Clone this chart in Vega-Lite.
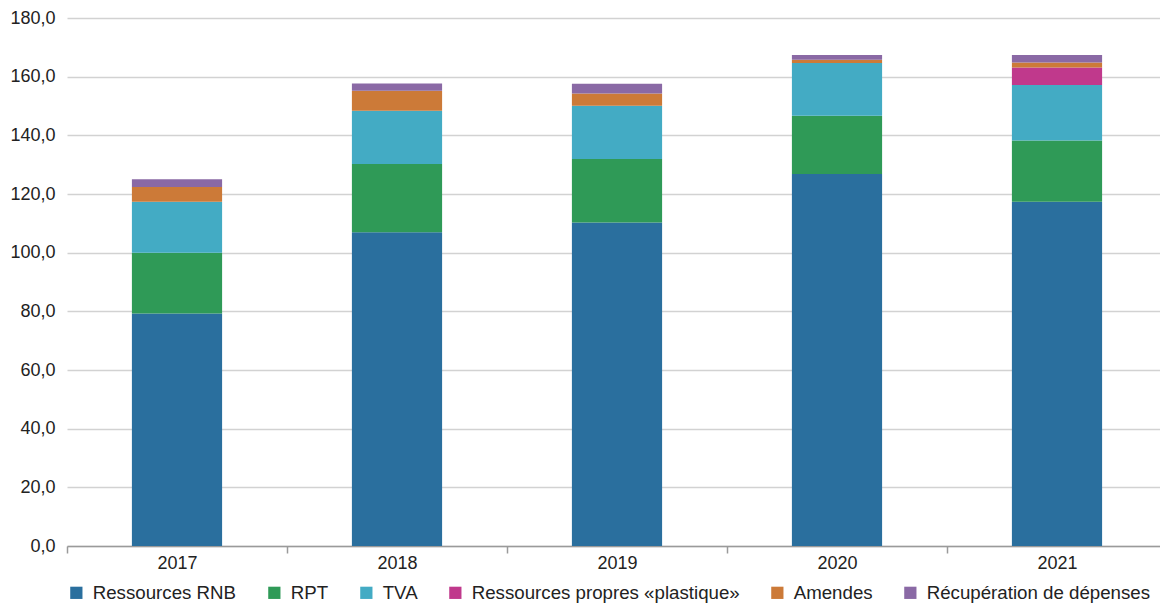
{
  "$schema": "https://vega.github.io/schema/vega-lite/v6.json",
  "width": 1100,
  "height": 528,
  "autosize": {"type": "none"},
  "padding": {"left": 67, "top": 18, "right": 0, "bottom": 57},
  "background": "white",
  "config": {
    "font": "Liberation Sans",
    "view": {"stroke": null}
  },
  "data": {
    "values": [
      {"annee": "2017", "ressource": "Ressources RNB", "montant": 79.3},
      {"annee": "2017", "ressource": "RPT", "montant": 20.7},
      {"annee": "2017", "ressource": "TVA", "montant": 17.4},
      {"annee": "2017", "ressource": "Amendes", "montant": 5.0},
      {"annee": "2017", "ressource": "Récupération de dépenses", "montant": 2.6},
      {"annee": "2018", "ressource": "Ressources RNB", "montant": 107.0},
      {"annee": "2018", "ressource": "RPT", "montant": 23.2},
      {"annee": "2018", "ressource": "TVA", "montant": 18.2},
      {"annee": "2018", "ressource": "Amendes", "montant": 6.8},
      {"annee": "2018", "ressource": "Récupération de dépenses", "montant": 2.5},
      {"annee": "2019", "ressource": "Ressources RNB", "montant": 110.3},
      {"annee": "2019", "ressource": "RPT", "montant": 21.6},
      {"annee": "2019", "ressource": "TVA", "montant": 18.2},
      {"annee": "2019", "ressource": "Amendes", "montant": 4.2},
      {"annee": "2019", "ressource": "Récupération de dépenses", "montant": 3.3},
      {"annee": "2020", "ressource": "Ressources RNB", "montant": 126.8},
      {"annee": "2020", "ressource": "RPT", "montant": 19.9},
      {"annee": "2020", "ressource": "TVA", "montant": 18.0},
      {"annee": "2020", "ressource": "Amendes", "montant": 1.1},
      {"annee": "2020", "ressource": "Récupération de dépenses", "montant": 1.6},
      {"annee": "2021", "ressource": "Ressources RNB", "montant": 117.4},
      {"annee": "2021", "ressource": "RPT", "montant": 20.8},
      {"annee": "2021", "ressource": "TVA", "montant": 19.0},
      {"annee": "2021", "ressource": "Ressources propres «plastique»", "montant": 5.9},
      {"annee": "2021", "ressource": "Amendes", "montant": 1.7},
      {"annee": "2021", "ressource": "Récupération de dépenses", "montant": 2.6}
    ]
  },
  "transform": [
    {
      "calculate": "indexof(['Ressources RNB', 'RPT', 'TVA', 'Ressources propres «plastique»', 'Amendes', 'Récupération de dépenses'], datum.ressource)",
      "as": "rang"
    }
  ],
  "mark": {"type": "bar"},
  "encoding": {
    "x": {
      "field": "annee",
      "type": "nominal",
      "scale": {"paddingInner": 0.59, "paddingOuter": 0.295},
      "axis": {
        "title": null,
        "labelAngle": 0,
        "tickOffset": -110,
        "labelOffset": 110,
        "tickSize": 7,
        "tickColor": "#9a9a9a",
        "tickWidth": 1.5,
        "domainColor": "#9a9a9a",
        "domainWidth": 1.5,
        "labelFontSize": 18,
        "labelColor": "#222222",
        "labelPadding": 1
      }
    },
    "y": {
      "field": "montant",
      "type": "quantitative",
      "stack": "zero",
      "scale": {"domain": [0, 180], "nice": false},
      "axis": {
        "title": null,
        "values": [0, 20, 40, 60, 80, 100, 120, 140, 160, 180],
        "labelExpr": "replace(format(datum.value, '.1f'), '.', ',')",
        "labelFontSize": 18,
        "labelColor": "#222222",
        "labelPadding": 12,
        "ticks": false,
        "domain": false,
        "gridColor": "#d2d2d2",
        "gridWidth": 1.5
      }
    },
    "color": {
      "field": "ressource",
      "type": "nominal",
      "sort": ["Ressources RNB", "RPT", "TVA", "Ressources propres «plastique»", "Amendes", "Récupération de dépenses"],
      "scale": {
        "domain": ["Ressources RNB", "RPT", "TVA", "Ressources propres «plastique»", "Amendes", "Récupération de dépenses"],
        "range": ["#2a6f9e", "#2f9a57", "#43abc4", "#c0398c", "#cc7a38", "#8a69a5"]
      },
      "legend": {
        "title": null,
        "orient": "bottom",
        "direction": "horizontal",
        "columns": 6,
        "symbolType": "square",
        "symbolSize": 150,
        "symbolStrokeWidth": 0,
        "labelFontSize": 18.7,
        "labelColor": "#222222",
        "labelOffset": 7,
        "columnPadding": 28,
        "offset": 11,
        "padding": 0,
        "labelLimit": 400
      }
    },
    "order": {"field": "rang", "type": "quantitative", "sort": "ascending"}
  }
}
